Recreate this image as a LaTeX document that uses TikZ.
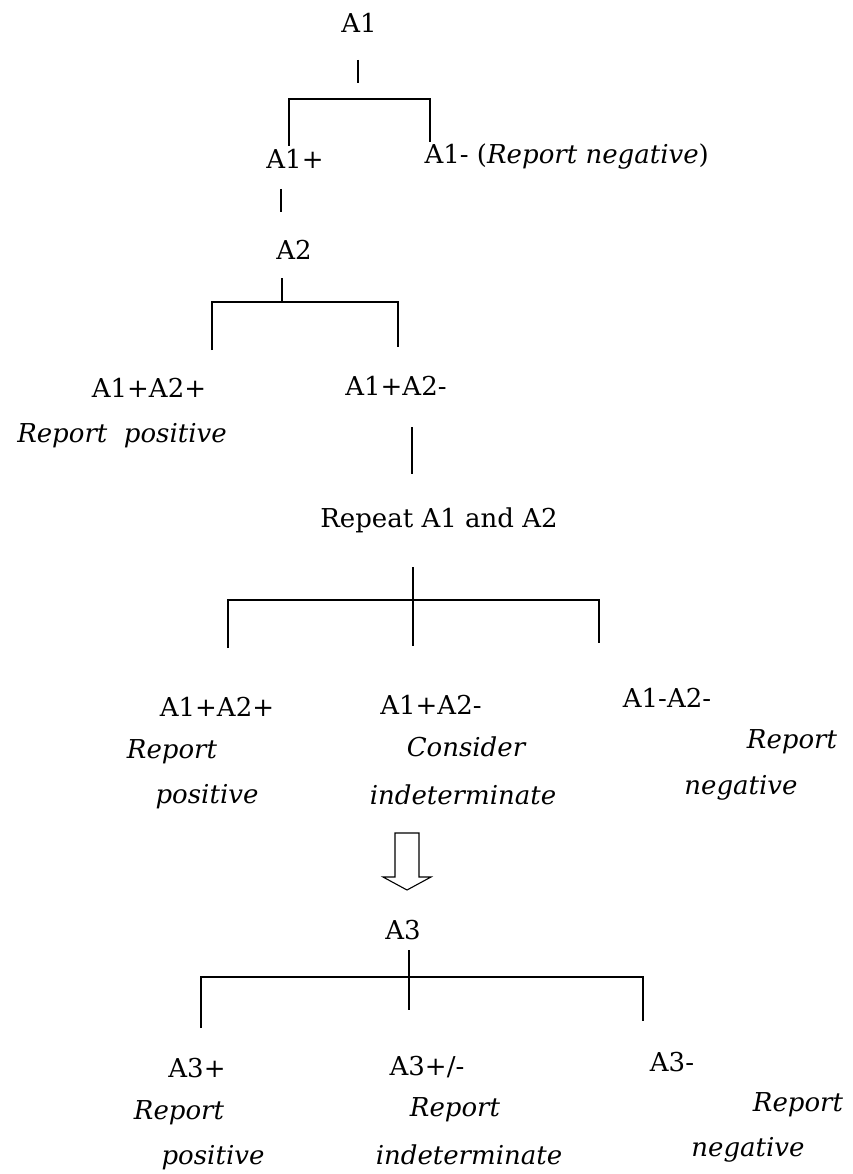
\documentclass[tikz,border=0pt]{standalone}
\usepackage{fontspec}
\setmainfont{DejaVu Serif}
\usepackage{tikz}
\usetikzlibrary{calc}

\begin{document}
\begin{tikzpicture}[x=1pt, y=-1pt, line width=1.3pt,
    lbl/.style={inner sep=0pt, font=\fontsize{26}{31}\selectfont},
    note/.style={inner sep=0pt, font=\fontsize{26}{31}\selectfont\itshape}]
    \useasboundingbox (0,0) rectangle (852,1174);

    % 第一步: A1
    \node[lbl] (a1) at (359,23) {A1};
    \node[lbl] (a1p) at (295,159) {A1+};
    \node[lbl, anchor=west] (a1n) at (424,157) {A1- (\textit{Report negative})};
    \coordinate (t1a) at (358,60);
    \coordinate (t1b) at (358,83);
    \draw (t1a) -- (t1b);
    \coordinate (b1l) at (289,146);
    \coordinate (b1c) at (430,99);
    \coordinate (b1r) at (430,142);
    \draw (b1l) |- (b1c) -- (b1r);

    % 第二步: A2
    \coordinate (t2a) at (281,189);
    \coordinate (t2b) at (281,212);
    \draw (t2a) -- (t2b);
    \node[lbl] (a2) at (294,250) {A2};
    \coordinate (t3a) at (282,278);
    \coordinate (t3b) at (282,302);
    \draw (t3a) -- (t3b);
    \coordinate (b2l) at (212,350);
    \coordinate (b2c) at (398,302);
    \coordinate (b2r) at (398,347);
    \draw (b2l) |- (b2c) -- (b2r);
    \node[lbl] (a12pp) at (149,388) {A1+A2+};
    \node[note] (rp1) at (122,436) {Report\ \ positive};
    \node[lbl] (a12pn) at (396,386) {A1+A2-};

    % 重复 A1 与 A2
    \coordinate (t4a) at (412,427);
    \coordinate (t4b) at (412,474);
    \draw (t4a) -- (t4b);
    \node[lbl] (rpt) at (439,520) {Repeat A1 and A2};
    \coordinate (t5a) at (413,567);
    \coordinate (t5b) at (413,646);
    \draw (t5a) -- (t5b);
    \coordinate (b3l) at (228,648);
    \coordinate (b3c) at (599,600);
    \coordinate (b3r) at (599,643);
    \draw (b3l) |- (b3c) -- (b3r);

    % 三种结果
    \node[lbl] (c12pp) at (217,707) {A1+A2+};
    \node[note] (rp2) at (172,752) {Report};
    \node[note] (ps2) at (207,797) {positive};
    \node[lbl] (c12pn) at (431,705) {A1+A2-};
    \node[note] (cs2) at (466,747) {Consider};
    \node[note] (in2) at (463,795) {indeterminate};
    \node[lbl] (c12nn) at (667,698) {A1-A2-};
    \node[note] (rn2) at (792,742) {Report};
    \node[note] (ng2) at (741,788) {negative};

    % 空心箭头
    \coordinate (arr) at (407,833);
    \draw[line width=1.1pt] ($(arr)+(-12,0)$) -- ($(arr)+(12,0)$) -- ($(arr)+(12,44)$)
        -- ($(arr)+(24,44)$) -- ($(arr)+(0,57)$) -- ($(arr)+(-24,44)$)
        -- ($(arr)+(-12,44)$) -- cycle;

    % 第三步: A3
    \node[lbl] (a3) at (403,930) {A3};
    \coordinate (t6a) at (409,950);
    \coordinate (t6b) at (409,1010);
    \draw (t6a) -- (t6b);
    \coordinate (b4l) at (201,1028);
    \coordinate (b4c) at (643,977);
    \coordinate (b4r) at (643,1021);
    \draw (b4l) |- (b4c) -- (b4r);

    \node[lbl] (a3p) at (197,1068) {A3+};
    \node[note] (rp3) at (179,1113) {Report};
    \node[note] (ps3) at (213,1158) {positive};
    \node[lbl] (a3pm) at (427,1067) {A3+/-};
    \node[note] (rp3m) at (455,1110) {Report};
    \node[note] (in3) at (469,1155) {indeterminate};
    \node[lbl] (a3n) at (672,1062) {A3-};
    \node[note] (rn3) at (798,1105) {Report};
    \node[note] (ng3) at (748,1150) {negative};
\end{tikzpicture}
\end{document}
